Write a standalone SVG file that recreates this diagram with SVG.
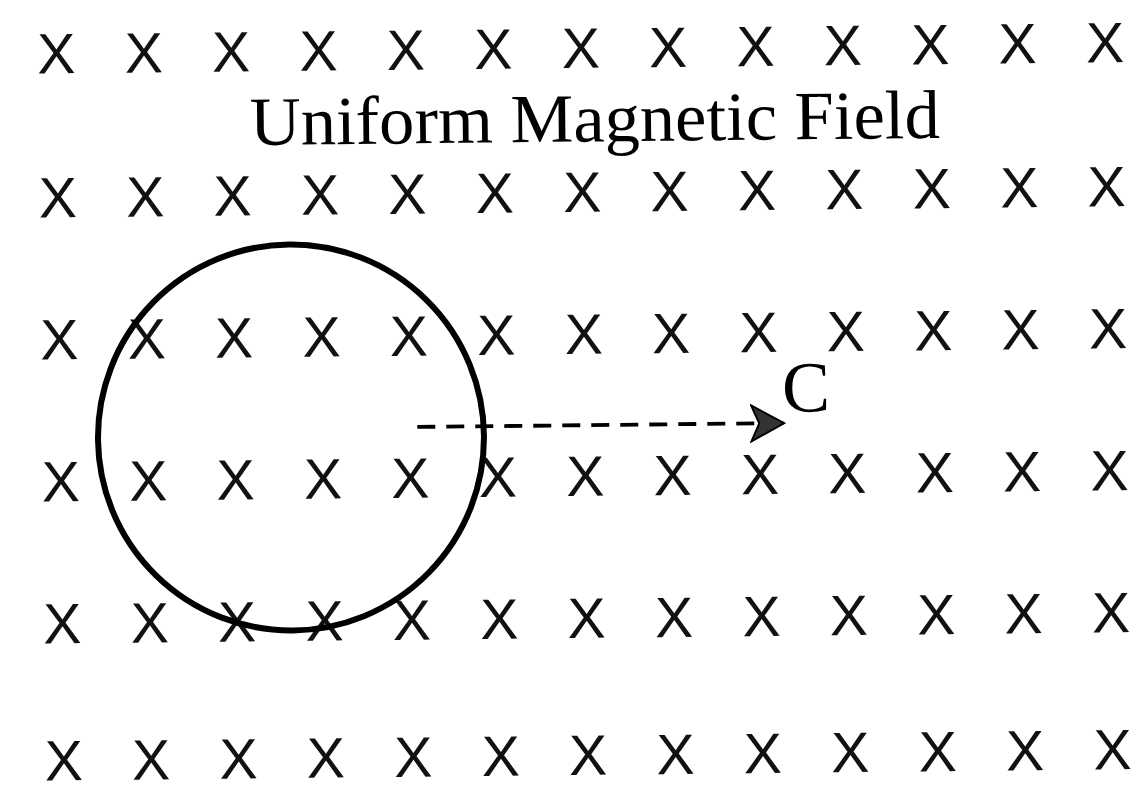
<svg xmlns="http://www.w3.org/2000/svg" width="1148" height="793" viewBox="0 0 1148 793">
<style>
.fx{font-family:"Liberation Sans",Arial,sans-serif;font-size:57px;fill:#111;text-anchor:middle}
.lbl{font-family:"Liberation Serif","Times New Roman",serif;fill:#000}
.loop{fill:none;stroke:#000;stroke-width:6}
.vel{fill:none;stroke:#000;stroke-width:3.8;stroke-dasharray:18 11}
</style>
<defs>
<marker id="head" markerUnits="userSpaceOnUse" markerWidth="36" markerHeight="40" viewBox="0 0 36 40" refX="34" refY="20" orient="auto">
<path d="M1,2 L34,20 L1,38 L9,20 Z" fill="#333" stroke="#000" stroke-width="2"/>
</marker>
</defs>
<rect width="1148" height="793" fill="#fff"/>
<g transform="rotate(-0.6 574 400)">
<g id="field">
<text class="fx" x="60" y="68">X</text><text class="fx" x="147.4" y="68">X</text><text class="fx" x="234.8" y="68">X</text><text class="fx" x="322.2" y="68">X</text><text class="fx" x="409.6" y="68">X</text><text class="fx" x="497" y="68">X</text><text class="fx" x="584.4" y="68">X</text><text class="fx" x="671.8" y="68">X</text><text class="fx" x="759.2" y="68">X</text><text class="fx" x="846.6" y="68">X</text><text class="fx" x="934" y="68">X</text><text class="fx" x="1021.4" y="68">X</text><text class="fx" x="1108.8" y="68">X</text>
<text class="fx" x="60" y="212">X</text><text class="fx" x="147.4" y="212">X</text><text class="fx" x="234.8" y="212">X</text><text class="fx" x="322.2" y="212">X</text><text class="fx" x="409.6" y="212">X</text><text class="fx" x="497" y="212">X</text><text class="fx" x="584.4" y="212">X</text><text class="fx" x="671.8" y="212">X</text><text class="fx" x="759.2" y="212">X</text><text class="fx" x="846.6" y="212">X</text><text class="fx" x="934" y="212">X</text><text class="fx" x="1021.4" y="212">X</text><text class="fx" x="1108.8" y="212">X</text>
<text class="fx" x="60" y="354">X</text><text class="fx" x="147.4" y="354">X</text><text class="fx" x="234.8" y="354">X</text><text class="fx" x="322.2" y="354">X</text><text class="fx" x="409.6" y="354">X</text><text class="fx" x="497" y="354">X</text><text class="fx" x="584.4" y="354">X</text><text class="fx" x="671.8" y="354">X</text><text class="fx" x="759.2" y="354">X</text><text class="fx" x="846.6" y="354">X</text><text class="fx" x="934" y="354">X</text><text class="fx" x="1021.4" y="354">X</text><text class="fx" x="1108.8" y="354">X</text>
<text class="fx" x="60" y="496">X</text><text class="fx" x="147.4" y="496">X</text><text class="fx" x="234.8" y="496">X</text><text class="fx" x="322.2" y="496">X</text><text class="fx" x="409.6" y="496">X</text><text class="fx" x="497" y="496">X</text><text class="fx" x="584.4" y="496">X</text><text class="fx" x="671.8" y="496">X</text><text class="fx" x="759.2" y="496">X</text><text class="fx" x="846.6" y="496">X</text><text class="fx" x="934" y="496">X</text><text class="fx" x="1021.4" y="496">X</text><text class="fx" x="1108.8" y="496">X</text>
<text class="fx" x="60" y="638">X</text><text class="fx" x="147.4" y="638">X</text><text class="fx" x="234.8" y="638">X</text><text class="fx" x="322.2" y="638">X</text><text class="fx" x="409.6" y="638">X</text><text class="fx" x="497" y="638">X</text><text class="fx" x="584.4" y="638">X</text><text class="fx" x="671.8" y="638">X</text><text class="fx" x="759.2" y="638">X</text><text class="fx" x="846.6" y="638">X</text><text class="fx" x="934" y="638">X</text><text class="fx" x="1021.4" y="638">X</text><text class="fx" x="1108.8" y="638">X</text>
<text class="fx" x="60" y="775">X</text><text class="fx" x="147.4" y="775">X</text><text class="fx" x="234.8" y="775">X</text><text class="fx" x="322.2" y="775">X</text><text class="fx" x="409.6" y="775">X</text><text class="fx" x="497" y="775">X</text><text class="fx" x="584.4" y="775">X</text><text class="fx" x="671.8" y="775">X</text><text class="fx" x="759.2" y="775">X</text><text class="fx" x="846.6" y="775">X</text><text class="fx" x="934" y="775">X</text><text class="fx" x="1021.4" y="775">X</text><text class="fx" x="1108.8" y="775">X</text>
</g>
<g id="title">
<text class="lbl" x="252.7" y="141.7" font-size="69" textLength="690" lengthAdjust="spacingAndGlyphs">Uniform Magnetic Field</text>
</g>
<g id="loop">
<circle class="loop" cx="290.6" cy="434.5" r="193"/>
</g>
<g id="connectors">
<line class="vel" x1="417" y1="425.3" x2="784" y2="425.3" marker-end="url(#head)"/>
</g>
<g id="label-C">
<text class="lbl" x="782" y="414" font-size="72">C</text>
</g>
</g>
</svg>
